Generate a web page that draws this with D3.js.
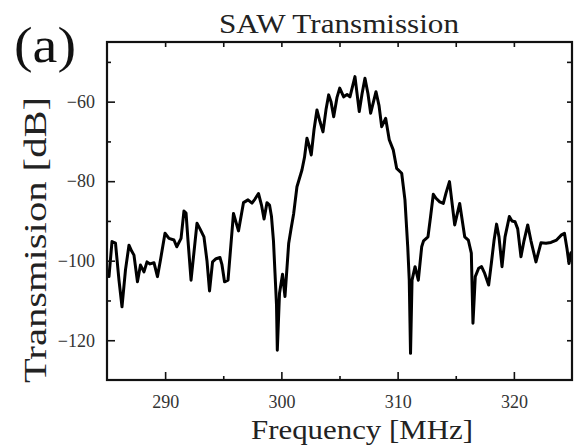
<!DOCTYPE html>
<html>
<head>
<meta charset="utf-8">
<script src="https://cdn.jsdelivr.net/npm/d3@7"></script>
<style>
  body { margin: 0; background: #fff; }
  text { font-family: "Liberation Serif", "DejaVu Serif", serif; }
</style>
</head>
<body>
<div id="chart"></div>
<script>
// SAW transmission trace
const freq = [
  285.17, 285.43, 285.73, 286.03, 286.29, 286.59, 286.89, 287.11, 287.32, 287.62,
  287.88, 288.18, 288.44, 288.70, 289.04, 289.34, 289.60, 289.99, 290.33, 290.76,
  291.00, 291.37, 291.62, 291.80, 291.97, 292.23, 292.74, 293.00, 293.34, 293.60,
  293.82, 294.08, 294.38, 294.72, 294.89, 295.11, 295.41, 295.88, 296.31, 296.74,
  297.13, 297.47, 297.73, 298.03, 298.29, 298.51, 298.76, 298.98, 299.15, 299.32,
  299.45, 299.58, 299.65, 299.84, 300.10, 300.31, 300.63, 300.83, 301.06, 301.34,
  301.77, 301.99, 302.20, 302.38, 302.57, 302.81, 303.06, 303.32, 303.58, 303.84,
  304.07, 304.27, 304.50, 304.78, 305.02, 305.36, 305.65, 305.90, 306.33, 306.70,
  306.94, 307.19, 307.45, 307.68, 308.14, 308.40, 308.63, 308.97, 309.28, 309.63,
  309.92, 310.35, 310.63, 310.87, 311.00, 311.11, 311.24, 311.50, 311.78, 312.07,
  312.23, 312.61, 312.83, 313.07, 313.30, 313.62, 313.93, 314.16, 314.46, 314.91,
  315.34, 315.77, 316.08, 316.34, 316.48, 316.68, 316.97, 317.22, 317.49, 317.83,
  318.06, 318.29, 318.51, 318.72, 318.98, 319.24, 319.61, 319.84, 320.10, 320.33,
  320.61, 320.87, 321.19, 321.47, 321.90, 322.33, 322.76, 323.19, 323.67, 324.10,
  324.35, 324.57, 324.74, 324.91
];
const trans = [
  -104.0, -95.2, -95.6, -104.9, -111.6, -102.3, -96.1, -97.5, -98.6, -105.3,
  -101.1, -102.8, -100.3, -100.8, -100.5, -104.0, -99.8, -93.1, -94.4, -94.8,
  -96.5, -94.4, -87.5, -88.0, -95.0, -104.9, -90.6, -92.0, -94.0, -100.0,
  -107.6, -100.3, -99.5, -99.2, -101.0, -105.3, -104.9, -88.1, -92.5, -85.4,
  -84.7, -85.5, -84.5, -83.1, -86.0, -89.5, -85.4, -86.0, -88.9, -95.0,
  -103.0, -111.0, -122.5, -108.2, -103.4, -109.0, -95.6, -92.0, -88.1, -81.4,
  -77.2, -74.0, -69.2, -71.0, -73.4, -67.0, -62.1, -65.0, -67.6, -62.0,
  -58.3, -60.0, -63.8, -59.0, -56.6, -58.8, -58.2, -58.8, -53.7, -62.5,
  -58.0, -54.1, -58.0, -62.9, -57.5, -61.0, -66.3, -64.2, -69.6, -72.2,
  -76.8, -78.0, -84.7, -96.5, -104.9, -123.3, -104.9, -101.5, -104.9, -96.5,
  -95.0, -94.0, -89.0, -83.3, -84.3, -85.2, -85.6, -83.0, -80.1, -91.0,
  -85.6, -94.0, -94.8, -98.1, -115.7, -104.0, -101.9, -101.5, -103.2, -106.1,
  -100.7, -95.0, -90.8, -94.0, -101.5, -94.0, -88.9, -90.0, -90.2, -92.0,
  -99.0, -95.0, -91.0, -95.0, -100.3, -95.5, -95.6, -95.4, -94.8, -93.5,
  -93.1, -97.0, -100.7, -98.0
];

const xMajor = [290, 300, 310, 320];
const xMinor = [295, 305, 315];
const yMajor = [-60, -80, -100, -120];
const yMinor = [-50, -70, -90, -110];

const W = 580, H = 445;
const m = { left: 107, right: 8, top: 42, bottom: 65 };

const svg = d3.select("#chart")
    .append("svg")
    .attr("width", W)
    .attr("height", H);

svg.append("rect").attr("width", W).attr("height", H).attr("fill", "#fff");

const x = d3.scaleLinear().domain([285, 325]).range([m.left, W - m.right]);
const y = d3.scaleLinear().domain([-130, -45]).range([H - m.bottom, m.top]);

const pts = freq.map((f, i) => [f, trans[i]]);

const line = d3.line()
    .x(d => x(d[0]))
    .y(d => y(d[1]));

svg.append("path")
    .datum(pts)
    .attr("fill", "none")
    .attr("stroke", "#000")
    .attr("stroke-width", 3)
    .attr("stroke-linejoin", "round")
    .attr("stroke-linecap", "round")
    .attr("d", line);

// axes with ticks pointing in, on all four sides
const styleAxis = g => {
    g.select(".domain").remove();
    g.selectAll(".tick line").attr("stroke", "#111").attr("stroke-width", 1.6);
    g.selectAll(".tick text")
        .attr("fill", "#333")
        .style("font-family", "Liberation Serif, serif")
        .style("font-size", "18px");
};

svg.append("g").attr("transform", `translate(0,${y(-130)})`)
    .call(d3.axisBottom(x).tickValues(xMajor).tickSize(-8).tickPadding(15).tickFormat(d3.format("d")))
    .call(styleAxis);
svg.append("g").attr("transform", `translate(0,${y(-130)})`)
    .call(d3.axisBottom(x).tickValues(xMinor).tickSize(-4).tickFormat(""))
    .call(styleAxis);
svg.append("g").attr("transform", `translate(0,${y(-45)})`)
    .call(d3.axisTop(x).tickValues(xMajor.concat(xMinor)).tickSize(-5).tickFormat(""))
    .call(styleAxis);

svg.append("g").attr("transform", `translate(${x(285)},0)`)
    .call(d3.axisLeft(y).tickValues(yMajor).tickSize(-8).tickPadding(12).tickFormat(d3.format("d")))
    .call(styleAxis);
svg.append("g").attr("transform", `translate(${x(285)},0)`)
    .call(d3.axisLeft(y).tickValues(yMinor).tickSize(-4).tickFormat(""))
    .call(styleAxis);
svg.append("g").attr("transform", `translate(${x(325)},0)`)
    .call(d3.axisRight(y).tickValues(yMajor.concat(yMinor)).tickSize(-5).tickFormat(""))
    .call(styleAxis);

// frame
svg.append("rect")
    .attr("x", x(285)).attr("y", y(-45))
    .attr("width", x(325) - x(285)).attr("height", y(-130) - y(-45))
    .attr("fill", "none").attr("stroke", "#111").attr("stroke-width", 2.2);

// texts
svg.append("text")
    .attr("x", 339).attr("y", 33)
    .attr("text-anchor", "middle")
    .attr("textLength", 240).attr("lengthAdjust", "spacingAndGlyphs")
    .style("font-size", "27px").attr("fill", "#222")
    .text("SAW Transmission");

svg.append("text")
    .attr("x", 14).attr("y", 62)
    .attr("textLength", 62).attr("lengthAdjust", "spacingAndGlyphs")
    .style("font-size", "50px").attr("fill", "#111")
    .text("(a)");

svg.append("text")
    .attr("x", 362).attr("y", 439)
    .attr("text-anchor", "middle")
    .attr("textLength", 222).attr("lengthAdjust", "spacingAndGlyphs")
    .style("font-size", "27px").attr("fill", "#222")
    .text("Frequency [MHz]");

svg.append("text")
    .attr("transform", "translate(46,240) rotate(-90)")
    .attr("text-anchor", "middle")
    .attr("textLength", 286).attr("lengthAdjust", "spacingAndGlyphs")
    .style("font-size", "31px").attr("fill", "#222")
    .text("Transmision [dB]");
</script>
</body>
</html>
